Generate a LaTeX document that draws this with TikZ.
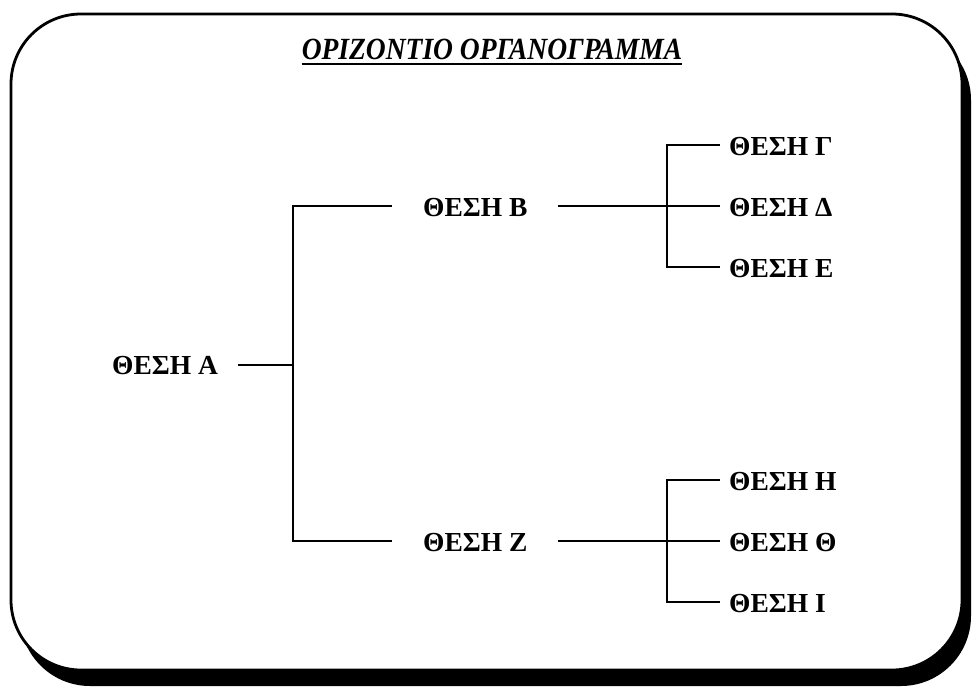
\documentclass[tikz,border=0pt]{standalone}
\usepackage{fontspec}
\setmainfont{Liberation Serif}
\begin{document}
\begin{tikzpicture}[x=1pt,y=-1pt,
  lbl/.style={anchor=west, inner sep=0pt, text height=18.2pt, text depth=0pt,
    font=\fontsize{27.5}{30}\selectfont\bfseries},
  conn/.style={line width=2pt},
  titlestyle/.style={inner sep=0pt, font=\fontsize{27.5}{30}\selectfont\bfseries\itshape}]
\useasboundingbox (0,0) rectangle (972,688);
% frame with shadow
\fill[black, rounded corners=70pt] (20,30) rectangle (971,686);
\draw[line width=2.8pt, fill=white, rounded corners=70pt] (11,14) rectangle (962,670);
% title
\node[titlestyle, anchor=base] (T) at (492,59) {\scalebox{1}[1.12]{ΟΡΙΖΟΝΤΙΟ ΟΡΓΑΝΟΓΡΑΜΜΑ}};
\draw[line width=1.8pt] ([yshift=-5pt]T.base west) -- ([yshift=-5pt]T.base east);
% nodes
\node[lbl] (A) at (112,365) {ΘΕΣΗ Α};
\node[lbl] (B) at (423,207) {ΘΕΣΗ Β};
\node[lbl] (Z) at (423,542) {ΘΕΣΗ Ζ};
\node[lbl] (G) at (729,146) {ΘΕΣΗ Γ};
\node[lbl] (D) at (729,207) {ΘΕΣΗ Δ};
\node[lbl] (E) at (729,268) {ΘΕΣΗ Ε};
\node[lbl] (H) at (729,481) {ΘΕΣΗ Η};
\node[lbl] (Th) at (729,542) {ΘΕΣΗ Θ};
\node[lbl] (I) at (729,603) {ΘΕΣΗ Ι};
% coordinates
\coordinate (aS) at (238,365);
\coordinate (aJ) at (293,365);
\coordinate (aT) at (293,206);
\coordinate (aB) at (293,541);
\coordinate (aTe) at (392,206);
\coordinate (aBe) at (392,541);
\coordinate (bS) at (558,206);
\coordinate (zS) at (558,541);
\coordinate (rT) at (667,145);
\coordinate (rE) at (667,267);
\coordinate (sT) at (667,480);
\coordinate (sI) at (667,602);
% connectors
\draw[conn] (aS) -- (aJ);
\draw[conn] (aTe) -- (aT) -- (aB) -- (aBe);
\draw[conn] (bS) -- ([xshift=-9pt]D.west |- bS);
\draw[conn] (zS) -- ([xshift=-9pt]Th.west |- zS);
\draw[conn] ([xshift=-9pt]G.west |- rT) -- (rT) -- (rE) -- ([xshift=-9pt]E.west |- rE);
\draw[conn] ([xshift=-9pt]H.west |- sT) -- (sT) -- (sI) -- ([xshift=-9pt]I.west |- sI);
\end{tikzpicture}
\end{document}
